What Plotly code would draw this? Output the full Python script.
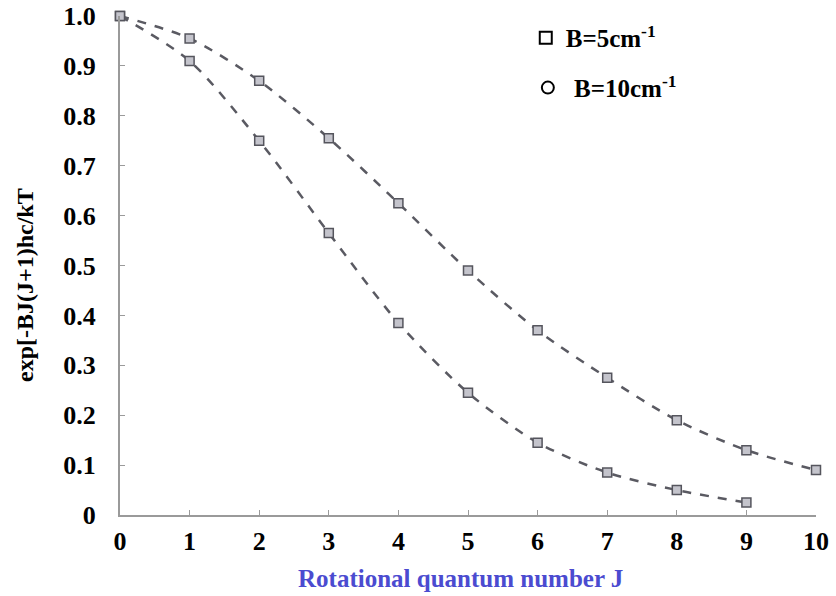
import plotly.graph_objects as go

J = [0, 1, 2, 3, 4, 5, 6, 7, 8, 9, 10]
b5_values = [1.0, 0.955, 0.87, 0.755, 0.625, 0.49, 0.37, 0.275, 0.19, 0.13, 0.09]
J10 = [0, 1, 2, 3, 4, 5, 6, 7, 8, 9]
b10_values = [1.0, 0.91, 0.75, 0.565, 0.385, 0.245, 0.145, 0.085, 0.05, 0.025]

y_ticks = [0, 0.1, 0.2, 0.3, 0.4, 0.5, 0.6, 0.7, 0.8, 0.9, 1.0]
y_ticktext = ["0", "0.1", "0.2", "0.3", "0.4", "0.5", "0.6", "0.7", "0.8", "0.9", "1.0"]
x_ticks = [0, 1, 2, 3, 4, 5, 6, 7, 8, 9, 10]

serif = "Liberation Serif"
line_col = "#5a5a62"
axis_col = "#9a9a9a"
mk = dict(symbol="square", size=9, color="#c4c4cc", line=dict(color="#55555d", width=1.5))

fig = go.Figure()
fig.add_trace(go.Scatter(x=J, y=b5_values, mode="lines+markers", name="B=5cm<sup>-1</sup>",
                         line=dict(color=line_col, width=2.5, dash="dash", shape="spline", smoothing=0.8),
                         marker=mk, cliponaxis=False, showlegend=False))
fig.add_trace(go.Scatter(x=J10, y=b10_values, mode="lines+markers", name="B=10cm<sup>-1</sup>",
                         line=dict(color=line_col, width=2.5, dash="dash", shape="spline", smoothing=0.8),
                         marker=mk, cliponaxis=False, showlegend=False))
fig.add_trace(go.Scatter(x=[None], y=[None], mode="markers", name="B=5cm<sup>-1</sup>", legend="legend",
                         marker=dict(symbol="square-open", size=12, color="black", line=dict(width=1.2))))
fig.add_trace(go.Scatter(x=[None], y=[None], mode="markers", name=" B=10cm<sup>-1</sup>", legend="legend2",
                         marker=dict(symbol="circle-open", size=13, color="black", line=dict(width=1.2))))

legend_font = dict(family=serif, size=25, color="black", weight="bold")
tick_font = dict(family=serif, size=26, color="black", weight="bold")
fig.update_layout(
    width=836, height=596,
    margin=dict(l=120, r=20, t=16, b=81),
    paper_bgcolor="white", plot_bgcolor="white",
    font=dict(family=serif, size=24, color="black"),
    legend=dict(x=0.583, y=0.956, xanchor="left", yanchor="middle",
                bgcolor="rgba(0,0,0,0)", font=legend_font, itemsizing="constant"),
    legend2=dict(x=0.586, y=0.856, xanchor="left", yanchor="middle",
                 bgcolor="rgba(0,0,0,0)", font=legend_font, itemsizing="constant"),
    xaxis=dict(range=[0, 10.0], tickvals=x_ticks, showgrid=False, zeroline=False, automargin=False,
               showline=True, linecolor=axis_col, linewidth=2, ticks="inside", ticklen=5,
               tickcolor=axis_col, ticklabelstandoff=2, ticklabeloverflow="allow",
               tickfont=tick_font),
    yaxis=dict(range=[0, 1.0], tickvals=y_ticks, ticktext=y_ticktext, showgrid=False, zeroline=False, automargin=False,
               showline=True, linecolor=axis_col, linewidth=2, ticks="inside", ticklen=5,
               tickcolor=axis_col, ticklabelstandoff=17, ticklabeloverflow="allow",
               tickfont=tick_font),
    annotations=[
        dict(text="Rotational quantum number J", xref="paper", yref="paper", x=(460 - 120) / 696, y=0,
             yshift=-63, xanchor="center", yanchor="middle", showarrow=False,
             font=dict(family=serif, size=25, color="#4b4bd0", weight="bold")),
        dict(text="exp[-BJ(J+1)hc/kT", xref="paper", yref="paper", x=0, xshift=-95,
             y=(515 - 285) / 499, xanchor="center", yanchor="middle", textangle=-90, showarrow=False,
             font=dict(family=serif, size=24, color="black", weight="bold")),
    ],
)

fig.write_html("out.html", config={"displayModeBar": False},
               post_script="document.body.style.margin='0';")
